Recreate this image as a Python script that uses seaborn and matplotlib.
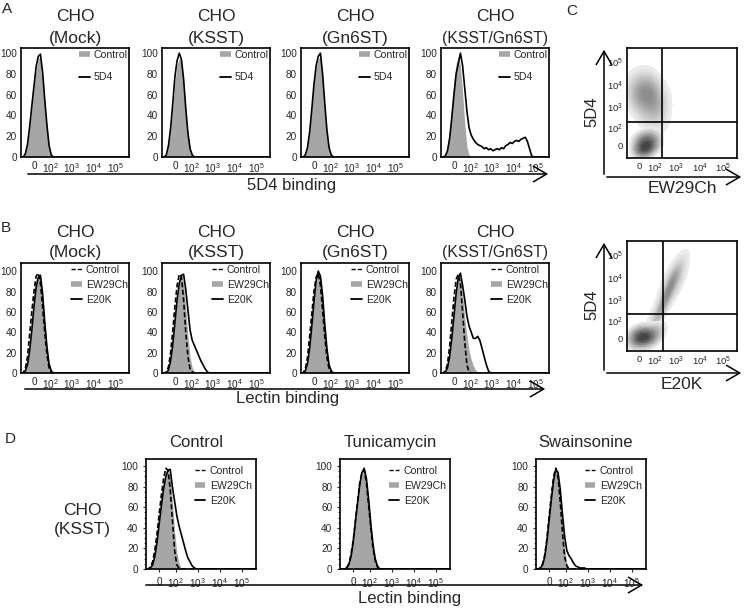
import numpy as np
import matplotlib
matplotlib.use('Agg')
import matplotlib.pyplot as plt
import seaborn as sns
from matplotlib.lines import Line2D
from matplotlib.patches import FancyArrowPatch

# ---------------- data ----------------
# histogram channel grid (display units 0..100), values = % of max
hist_x = np.arange(0, 101, 2)
tick_pos = [12, 27, 47, 67, 87]
tick_lab = ['0', r'$\mathregular{10^2}$', r'$\mathregular{10^3}$',
            r'$\mathregular{10^4}$', r'$\mathregular{10^5}$']
pct_ticks = [0, 20, 40, 60, 80, 100]

# A: Control (filled) vs 5D4 (line)
a_titles = ['(Mock)', '(KSST)', '(Gn6ST)', '(KSST/Gn6ST)']
a_mock_ctrl = [0, 0, 3, 12, 28, 48, 66, 84, 95, 96, 80, 54, 30, 10, 2, 0]
a_mock_5d4 = [0, 0, 3, 12, 29, 49, 68, 87, 97, 99, 82, 55, 31, 11, 2, 0]
a_ksst_ctrl = [0, 0, 2, 10, 26, 48, 72, 89, 95, 92, 74, 48, 24, 8, 2, 0]
a_ksst_5d4 = [0, 0, 2, 11, 28, 52, 78, 93, 100, 94, 75, 47, 23, 8, 2, 0]
a_gn6st_ctrl = [0, 0, 2, 9, 25, 47, 70, 87, 95, 96, 78, 50, 25, 8, 2, 0]
a_gn6st_5d4 = [0, 0, 2, 9, 24, 46, 70, 88, 97, 100, 80, 52, 26, 9, 2, 0]
a_dbl_ctrl = [0, 0, 2, 10, 27, 50, 74, 90, 97, 88, 62, 32, 10, 2, 0]
a_dbl_5d4 = [0, 0, 1, 6, 18, 38, 60, 80, 90, 100, 88, 66, 44, 28, 21, 17, 14, 12,
             11, 10, 8, 9, 7, 8, 6, 7, 8, 7, 9, 8, 11, 12, 14, 13, 15, 16, 15, 17,
             18, 19, 15, 8, 1, 0]

# B: Control (dashed), EW29Ch (filled), E20K (line)
b_mock_ctrl = [0, 0, 4, 16, 38, 60, 80, 95, 98, 88, 65, 40, 18, 5, 1, 0]
b_mock_ew = [0, 0, 2, 9, 24, 45, 68, 86, 95, 92, 74, 48, 24, 8, 2, 0]
b_mock_e20k = [0, 0, 2, 8, 22, 42, 65, 84, 94, 96, 78, 50, 26, 9, 2, 0]
b_ksst_ctrl = [0, 0, 1, 6, 20, 42, 66, 86, 97, 95, 72, 40, 16, 4, 1, 0]
b_ksst_ew = [0, 0, 0, 3, 12, 28, 50, 72, 88, 96, 88, 64, 36, 16, 5, 1, 0]
b_ksst_e20k = [0, 0, 0, 3, 12, 28, 50, 72, 88, 96, 97, 82, 62, 42, 32, 27, 22,
               17, 12, 8, 4, 1, 0]
b_gn6st_ctrl = [0, 0, 4, 15, 36, 58, 80, 94, 98, 86, 62, 36, 15, 4, 1, 0]
b_gn6st_ew = [0, 0, 2, 9, 24, 46, 70, 88, 96, 92, 72, 46, 22, 7, 1, 0]
b_gn6st_e20k = [0, 0, 2, 9, 24, 46, 70, 90, 100, 95, 76, 48, 24, 8, 2, 0]
b_dbl_ctrl = [0, 0, 2, 9, 26, 50, 74, 92, 97, 88, 60, 30, 8, 1, 0]
b_dbl_ew = [0, 0, 1, 5, 16, 35, 58, 80, 94, 92, 76, 55, 36, 22, 13, 7, 3, 1, 0]
b_dbl_e20k = [0, 0, 1, 5, 16, 34, 56, 78, 94, 98, 86, 72, 56, 46, 40, 34, 34,
              36, 32, 24, 16, 8, 2, 0]

# D: CHO(KSST) treated with inhibitors
d_titles = ['Control', 'Tunicamycin', 'Swainsonine']
d_ctrl_ctrl = [0, 0, 2, 7, 18, 34, 54, 72, 88, 98, 96, 78, 48, 18, 4, 1, 0]
d_ctrl_ew = [0, 0, 1, 5, 14, 28, 46, 64, 80, 92, 96, 90, 66, 36, 16, 6, 1, 0]
d_ctrl_e20k = [0, 0, 1, 4, 12, 26, 44, 62, 78, 90, 96, 97, 80, 66, 52, 42, 34,
               26, 18, 11, 7, 3, 1, 0]
d_tun_ctrl = [0, 0, 0, 1, 5, 14, 28, 46, 66, 84, 94, 96, 84, 62, 40, 20, 8, 2, 0]
d_tun_ew = [0, 0, 0, 1, 4, 12, 26, 44, 62, 80, 92, 96, 86, 66, 42, 22, 9, 3, 0]
d_tun_e20k = [0, 0, 0, 1, 4, 12, 26, 46, 64, 82, 94, 98, 88, 68, 44, 24, 10, 3, 0]
d_swa_ctrl = [0, 0, 1, 5, 14, 30, 52, 72, 90, 98, 90, 66, 36, 12, 3, 0]
d_swa_ew = [0, 0, 1, 4, 12, 28, 48, 68, 86, 96, 92, 72, 44, 20, 6, 1, 0]
d_swa_e20k = [0, 0, 1, 4, 12, 28, 48, 68, 86, 97, 94, 78, 54, 32, 18, 13, 10, 6,
              3, 2, 1, 1, 1, 0]

# C: dot-plot density anchors (x, y in display units, weight)
c1_low_x = [12, 18, 22, 15, 26, 8, 20, 16, 28, 10]
c1_low_y = [10, 8, 14, 17, 10, 18, 22, 4, 20, 6]
c1_low_w = [6, 6, 6, 5, 3, 2, 3, 3, 2, 2]
c1_high_x = [8, 14, 20, 26, 22, 12, 30, 24, 34, 18, 28, 6, 16]
c1_high_y = [62, 58, 62, 52, 44, 48, 42, 68, 58, 34, 30, 52, 70]
c1_high_w = [1.5, 2, 2, 2, 1.5, 1.2, 1, 1, 0.6, 0.8, 0.5, 0.8, 1]
c2_low_x = [10, 15, 18, 12, 24, 28, 6, 20, 30, 8]
c2_low_y = [12, 10, 16, 20, 12, 18, 15, 6, 24, 4]
c2_low_w = [5, 5, 4, 3, 3, 2, 2, 2, 1.5, 1.5]
c2_high_x = [26, 30, 33, 36, 22, 40, 44, 38, 46, 42, 36, 48, 34]
c2_high_y = [28, 35, 42, 50, 32, 62, 66, 56, 58, 70, 66, 68, 40]
c2_high_w = [2, 2, 2, 2, 1, 3, 3, 2, 2, 2, 1.5, 1, 1]
c_gates = [(32, 33), (33, 34)]

# ---------------- style ----------------
sns.set_style('white')
plt.rcParams['font.family'] = ['Liberation Sans', 'DejaVu Sans']
plt.rcParams['mathtext.fontset'] = 'custom'
plt.rcParams['mathtext.rm'] = 'Liberation Sans'
GRAY = '#a6a6a6'
W, H = 745, 608

fig = plt.figure(figsize=(W / 100, H / 100), dpi=100)


def px_axes(left, top, width, height):
    return fig.add_axes([left / W, 1 - (top + height) / H, width / W, height / H])


def ftext(x, y, s, **kw):
    fig.text(x / W, 1 - y / H, s, **kw)


def arrow(x1, y1, x2, y2):
    fig.add_artist(FancyArrowPatch((x1 / W, 1 - y1 / H), (x2 / W, 1 - y2 / H),
                                   transform=fig.transFigure, color='black', lw=1.1,
                                   arrowstyle='->,head_length=0.6,head_width=0.35',
                                   mutation_scale=16))


def pad(vals):
    return np.array(vals + [0] * (len(hist_x) - len(vals)), dtype=float)


def style_box(ax, ymax, ticklen=0):
    ax.set_xlim(0, 100)
    ax.set_ylim(0, ymax)
    ax.set_xticks(tick_pos, tick_lab)
    ax.set_yticks(pct_ticks)
    ax.tick_params(length=ticklen, width=0.8, labelsize=7.2, pad=3)
    for s in ax.spines.values():
        s.set_visible(True)
        s.set_linewidth(1.2)
        s.set_color('black')
    ax.set_xlabel('')
    ax.set_ylabel('')


def hist(ax, fill, lines):
    ax.fill_between(hist_x, pad(fill), color=GRAY, lw=0)
    for y, ls in lines:
        sns.lineplot(x=hist_x, y=pad(y), ax=ax, color='black', lw=1.2,
                     linestyle=ls, estimator=None, sort=False)


def legend(ax, kinds, labels, spacing, anchor=(1.01, 1.0)):
    hs = []
    for k in kinds:
        if k == 'fill':
            hs.append(Line2D([0], [0], color=GRAY, lw=4, solid_capstyle='butt'))
        elif k == 'dash':
            hs.append(Line2D([0], [0], color='black', lw=1, ls=(0, (3, 1.5))))
        else:
            hs.append(Line2D([0], [0], color='black', lw=1.3))
    ax.legend(hs, labels, loc='upper right', bbox_to_anchor=anchor, frameon=False,
              fontsize=7.6, handlelength=1.0, handletextpad=0.4,
              labelspacing=spacing, borderaxespad=0, borderpad=0.2)


lefts = [21, 162, 301, 441]

# ---------------- panel A ----------------
a_ctrl = [a_mock_ctrl, a_ksst_ctrl, a_gn6st_ctrl, a_dbl_ctrl]
a_5d4 = [a_mock_5d4, a_ksst_5d4, a_gn6st_5d4, a_dbl_5d4]
for i in range(4):
    ax = px_axes(lefts[i], 48, 108, 109)
    hist(ax, a_ctrl[i], [(a_5d4[i], '-')])
    style_box(ax, 105)
    legend(ax, ['fill', 'line'], ['Control', '5D4'], 1.15)
    cx = lefts[i] + 54
    ftext(cx, 21, 'CHO', ha='center', va='baseline', fontsize=12.5)
    ftext(cx, 43, a_titles[i], ha='center', va='baseline',
          fontsize=12.5 if i < 3 else 11.3)
arrow(25, 174, 551, 174)
ftext(292, 190, '5D4 binding', ha='center', va='baseline', fontsize=12)

# ---------------- panel B ----------------
b_ctrl = [b_mock_ctrl, b_ksst_ctrl, b_gn6st_ctrl, b_dbl_ctrl]
b_ew = [b_mock_ew, b_ksst_ew, b_gn6st_ew, b_dbl_ew]
b_e20k = [b_mock_e20k, b_ksst_e20k, b_gn6st_e20k, b_dbl_e20k]
for i in range(4):
    ax = px_axes(lefts[i], 263, 108, 110)
    hist(ax, b_ew[i], [(b_e20k[i], '-'), (b_ctrl[i], (0, (3, 1.5)))])
    style_box(ax, 108)
    legend(ax, ['dash', 'fill', 'line'], ['Control', 'EW29Ch', 'E20K'], 0.45)
    cx = lefts[i] + 54
    ftext(cx, 237, 'CHO', ha='center', va='baseline', fontsize=12.5)
    ftext(cx, 257, a_titles[i], ha='center', va='baseline',
          fontsize=12.5 if i < 3 else 11.3)
arrow(22, 389, 548, 389)
ftext(288, 403, 'Lectin binding', ha='center', va='baseline', fontsize=12)

# ---------------- panel C ----------------
c_data = [(c1_low_x, c1_low_y, c1_low_w, c1_high_x, c1_high_y, c1_high_w, 'EW29Ch'),
          (c2_low_x, c2_low_y, c2_low_w, c2_high_x, c2_high_y, c2_high_w, 'E20K')]
c_tops = [48, 241]
c_bottoms = [177, 373]
for i, (lx, ly, lw, hx, hy, hw, xl) in enumerate(c_data):
    ax = px_axes(627, c_tops[i], 110, 110)
    sns.kdeplot(x=hx, y=hy, weights=hw, ax=ax, fill=True, levels=14, thresh=0.06,
                bw_adjust=1.3, cmap=sns.light_palette('#8a8a8a', as_cmap=True),
                clip=((0, 100), (0, 100)))
    sns.kdeplot(x=lx, y=ly, weights=lw, ax=ax, fill=True, levels=14, thresh=0.08,
                bw_adjust=1.35, cmap=sns.light_palette('#404040', as_cmap=True),
                clip=((0, 100), (0, 100)))
    ax.axvline(c_gates[i][0], color='black', lw=1.2)
    ax.axhline(c_gates[i][1], color='black', lw=1.2)
    style_box(ax, 100)
    ax.set_yticks([11, 27, 46, 66, 87], tick_lab)
    ax.set_xticks([11, 25, 45, 66, 87], tick_lab)
    ax.tick_params(labelsize=6.8, pad=3)
    arrow(604, c_bottoms[i], 604, c_tops[i] - 1)
    arrow(604, c_bottoms[i], 744, c_bottoms[i])
    ftext(592, c_tops[i] + 64, '5D4', ha='center', va='center', rotation=90,
          fontsize=12)
    ftext(682, c_bottoms[i] + 16, xl, ha='center', va='baseline', fontsize=12.5)

# ---------------- panel D ----------------
d_lefts = [146, 340, 536]
d_ctrl = [d_ctrl_ctrl, d_tun_ctrl, d_swa_ctrl]
d_ew = [d_ctrl_ew, d_tun_ew, d_swa_ew]
d_e20k = [d_ctrl_e20k, d_tun_e20k, d_swa_e20k]
for i in range(3):
    ax = px_axes(d_lefts[i], 459, 110, 110)
    hist(ax, d_ew[i], [(d_e20k[i], '-'), (d_ctrl[i], (0, (3, 1.5)))])
    style_box(ax, 107, ticklen=2.5)
    ax.set_yticks(np.arange(0, 101, 5), minor=True)
    ax.tick_params(axis='y', which='minor', length=1.5, width=0.6, left=True)
    ax.tick_params(axis='both', which='major', left=True, bottom=True)
    legend(ax, ['dash', 'fill', 'line'], ['Control', 'EW29Ch', 'E20K'], 0.5,
           anchor=(0.98, 0.96))
    ftext(d_lefts[i] + 50, 447, d_titles[i], ha='center', va='baseline', fontsize=12)
ftext(82, 515, 'CHO', ha='center', va='baseline', fontsize=12.5)
ftext(82, 534, '(KSST)', ha='center', va='baseline', fontsize=12.5)
arrow(143, 585, 646, 585)
ftext(410, 603, 'Lectin binding', ha='center', va='baseline', fontsize=12)

# panel letters
for lab, x, y in [('A', 2, 13), ('B', 1, 232), ('C', 566, 15), ('D', 5, 443)]:
    ftext(x, y, lab, ha='left', va='baseline', fontsize=11)

plt.savefig('out.png', dpi=100)
